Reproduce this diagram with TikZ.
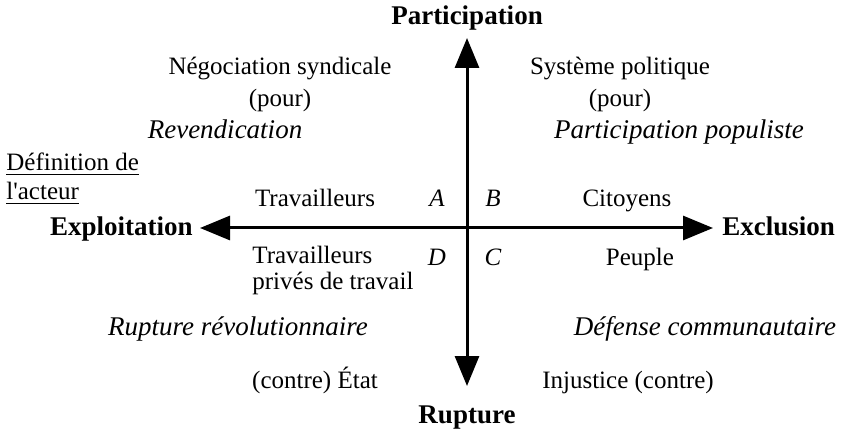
\documentclass[tikz,border=0pt]{standalone}
\usepackage{fontspec}
\setmainfont{Liberation Serif}
\usetikzlibrary{arrows.meta}
\begin{document}
\begin{tikzpicture}[x=0.5pt,y=-0.5pt,>={Triangle[length=15pt,width=12pt]},
	txt/.style={font=\fontsize{12.5}{16}\selectfont,inner sep=0pt,align=center},
	one/.style={text height=8.5pt,text depth=0.5pt},
	pole/.style={font=\fontsize{13.5}{16}\selectfont\bfseries,inner sep=0pt,one},
	logic/.style={font=\fontsize{13.5}{16}\selectfont\itshape,inner sep=0pt,one},
	quad/.style={font=\fontsize{12.5}{15}\selectfont\itshape,inner sep=0pt,one}]

\useasboundingbox (0,0) rectangle (860,432);

% The poles
\node[pole] (particip) at (467,17) {Participation};
\node[pole] (rupture) at (467,415) {Rupture};
\node[pole,anchor=east] (exploit) at (193,228) {Exploitation};
\node[pole,anchor=west] (exclus) at (722,228) {Exclusion};

% The axes
\coordinate (top) at (467,38);
\coordinate (bottom) at (467,386);
\coordinate (left) at (200,228);
\coordinate (right) at (713,228);
\draw[line width=1.5pt,<->] (bottom) -- (top);
\draw[line width=1.5pt,<->] (left) -- (right);

% The quadrant letters
\node[quad] (qa) at (437,199) {A};
\node[quad] (qb) at (493,199) {B};
\node[quad] (qc) at (493,257) {C};
\node[quad] (qd) at (437,257) {D};

% The actors
\node[txt,one,anchor=west] (defin) at (6,163) {\underline{Définition de}};
\node[txt,one,anchor=west] (acteur) at (6,192) {\underline{l\textquotesingle acteur}};
\node[txt,one] (travail) at (315,199) {Travailleurs};
\node[txt,one] (citoyen) at (627,199) {Citoyens};
\node[txt,align=left,anchor=west,font=\fontsize{12.5}{13}\selectfont] (prives) at (252,270) {Travailleurs\\privés de travail};
\node[txt,one] (peuple) at (640,257) {Peuple};

% The adversaries
\node[txt] (negoc) at (280,84) {Négociation syndicale\\(pour)};
\node[txt] (systeme) at (620,84) {Système politique\\(pour)};
\node[txt,one] (etat) at (315,380) {(contre) État};
\node[txt,one] (injust) at (628,380) {Injustice (contre)};

% The logics of action
\node[logic] (revend) at (225,131) {Revendication};
\node[logic] (populi) at (679,131) {Participation populiste};
\node[logic] (revol) at (238,327) {Rupture révolutionnaire};
\node[logic] (defense) at (705,327) {Défense communautaire};

\end{tikzpicture}
\end{document}
